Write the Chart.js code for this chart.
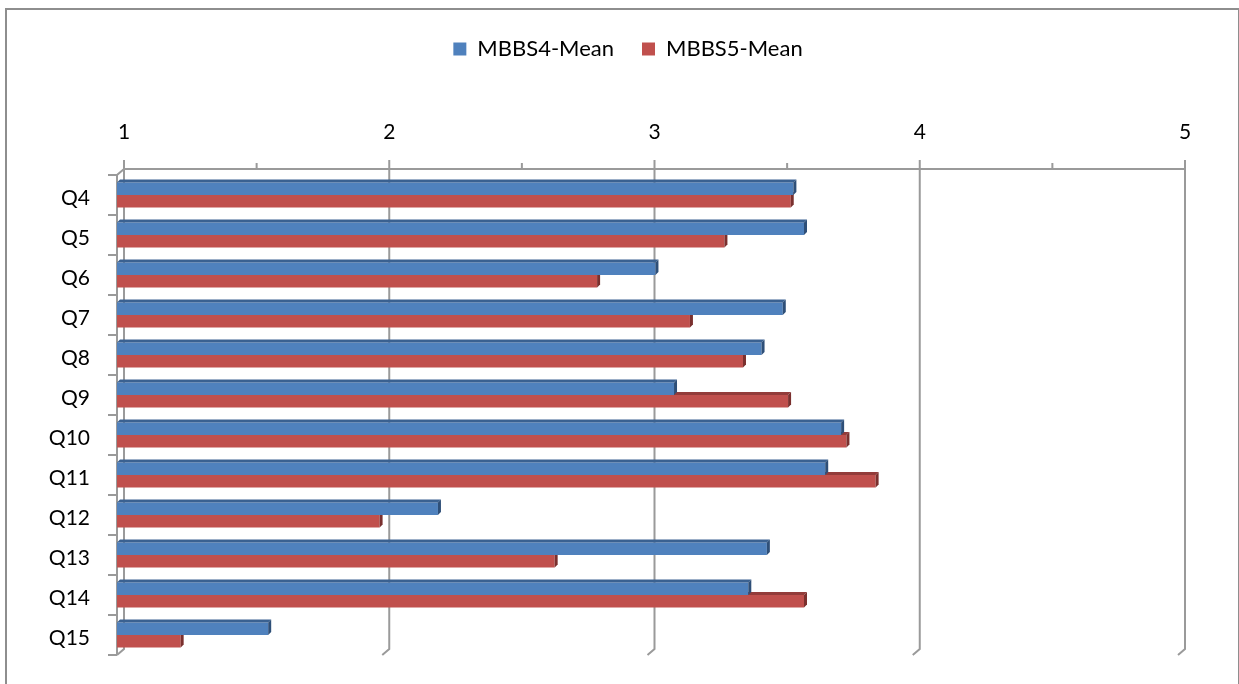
<!DOCTYPE html>
<html>
<head>
<meta charset="utf-8">
<title>MBBS4 vs MBBS5 mean scores</title>
<script src="https://cdn.jsdelivr.net/npm/chart.js@4.4.1/dist/chart.umd.min.js"></script>
<style>
  html, body { margin: 0; padding: 0; background: #fff; }
  #frame { position: absolute; left: 5px; top: 8px; width: 1235px; height: 700px;
           border: 2px solid #8e8e8e; box-sizing: border-box; }
  #wrap { position: absolute; left: 0; top: 0; width: 1239px; height: 684px; }
</style>
</head>
<body>
<div id="frame"></div>
<div id="wrap"><canvas id="c" width="1239" height="684"></canvas></div>
<script>
// Questions and mean scores per cohort
const questions = ['Q4', 'Q5', 'Q6', 'Q7', 'Q8', 'Q9', 'Q10', 'Q11', 'Q12', 'Q13', 'Q14', 'Q15'];
const mbbs4Mean = [3.55, 3.59, 3.03, 3.51, 3.43, 3.10, 3.73, 3.67, 2.21, 3.45, 3.38, 1.57];
const mbbs5Mean = [3.54, 3.29, 2.81, 3.16, 3.36, 3.53, 3.75, 3.86, 1.99, 2.65, 3.59, 1.24];
const seriesNames = ['MBBS4-Mean', 'MBBS5-Mean'];
const scaleMin = 1, scaleMax = 5, scaleStep = 1;

const FONT = 'Lato, "Open Sans", sans-serif';
const PAD_TOP = 10;
const AREA_TOP = 175;
const LEGEND_SHIFT = 39;           // legend sits a little right of the plot centre
const WALL_DX = 7, WALL_DY = -6;   // depth of the back wall
const BAR_D = 3;                   // depth of each bar

// Back wall, side wall and gridlines drawn in a simple 3D style
const wall3d = {
  id: 'wall3d',
  afterLayout(chart) {
    const lg = chart.legend;
    if (lg) { lg.left += LEGEND_SHIFT; lg.right += LEGEND_SHIFT; }
  },
  beforeDatasetsDraw(chart) {
    const { ctx, chartArea: a, scales: { x, y } } = chart;
    const topB = a.top + WALL_DY, botB = a.bottom + WALL_DY;
    ctx.save();
    ctx.strokeStyle = '#9a9a9a';
    ctx.lineWidth = 2;
    ctx.beginPath();
    const xl = x.getPixelForValue(x.min) + WALL_DX;
    const xr = x.getPixelForValue(x.max) + WALL_DX;
    ctx.moveTo(xl, topB); ctx.lineTo(xr, topB);
    x.ticks.forEach(t => {
      const px = x.getPixelForValue(t.value) + WALL_DX;
      ctx.moveTo(px, topB - 9); ctx.lineTo(px, botB); ctx.lineTo(px - WALL_DX, a.bottom);
    });
    for (let i = 0; i < x.ticks.length - 1; i++) {
      const v = (x.ticks[i].value + x.ticks[i + 1].value) / 2;
      const px = x.getPixelForValue(v) + WALL_DX;
      ctx.moveTo(px, topB - 6); ctx.lineTo(px, topB);
    }
    // front edge of the side wall
    ctx.moveTo(a.left + WALL_DX, topB); ctx.lineTo(a.left, a.top); ctx.lineTo(a.left, a.bottom);
    const n = y.ticks.length, step = (a.bottom - a.top) / n;
    for (let i = 0; i <= n; i++) {
      const py = a.top + i * step;
      ctx.moveTo(a.left - 9, py); ctx.lineTo(a.left, py);
    }
    ctx.stroke();
    ctx.restore();
  },
  afterDatasetDraw(chart, args) {
    const ds = chart.data.datasets[args.index];
    const ctx = chart.ctx;
    ctx.save();
    args.meta.data.forEach(el => {
      const p = el.getProps(['x', 'y', 'base', 'height'], true);
      const top = p.y - p.height / 2, h = p.height, d = BAR_D;
      ctx.fillStyle = ds.topColor;
      ctx.beginPath();
      ctx.moveTo(p.base, top); ctx.lineTo(p.base + d, top - d);
      ctx.lineTo(p.x + d, top - d); ctx.lineTo(p.x, top);
      ctx.closePath(); ctx.fill();
      ctx.fillStyle = ds.sideColor;
      ctx.beginPath();
      ctx.moveTo(p.x, top); ctx.lineTo(p.x + d, top - d);
      ctx.lineTo(p.x + d, top + h - d); ctx.lineTo(p.x, top + h);
      ctx.closePath(); ctx.fill();
    });
    ctx.restore();
  }
};

new Chart(document.getElementById('c'), {
  type: 'bar',
  data: {
    labels: questions,
    datasets: [
      { label: seriesNames[0], data: mbbs4Mean, base: scaleMin,
        backgroundColor: '#4F81BD', topColor: '#3A6191', sideColor: '#2E4F78',
        borderWidth: 0, barPercentage: 1, categoryPercentage: 0.625 },
      { label: seriesNames[1], data: mbbs5Mean, base: scaleMin,
        backgroundColor: '#C0504D', topColor: '#933C3A', sideColor: '#7A302E',
        borderWidth: 0, barPercentage: 1, categoryPercentage: 0.625 }
    ]
  },
  options: {
    indexAxis: 'y',
    responsive: false,
    animation: false,
    devicePixelRatio: 1,
    layout: { padding: { top: PAD_TOP, left: 0, right: 61, bottom: 29 } },
    plugins: {
      tooltip: { enabled: false },
      legend: {
        position: 'top',
        labels: { font: { family: FONT, size: 22 }, color: '#000',
                  boxWidth: 13, boxHeight: 13, padding: 28 }
      }
    },
    scales: {
      x: {
        type: 'linear', position: 'top', min: scaleMin, max: scaleMax,
        grid: { display: false, drawTicks: false },
        border: { display: false },
        ticks: { stepSize: scaleStep, color: '#000', font: { family: FONT, size: 21 },
                 labelOffset: WALL_DX, padding: 30 },
        afterFit(s) {
          const lg = s.chart.legend;
          s.height = AREA_TOP - PAD_TOP - (lg ? lg.height : 0);
        }
      },
      y: {
        grid: { display: false, drawTicks: false },
        border: { display: false },
        ticks: { color: '#000', font: { family: FONT, size: 21 }, padding: 27, labelOffset: 3 },
        afterFit(s) { s.width = 117; s.paddingTop = 0; s.paddingBottom = 0; }
      }
    }
  },
  plugins: [wall3d]
});
</script>
</body>
</html>
